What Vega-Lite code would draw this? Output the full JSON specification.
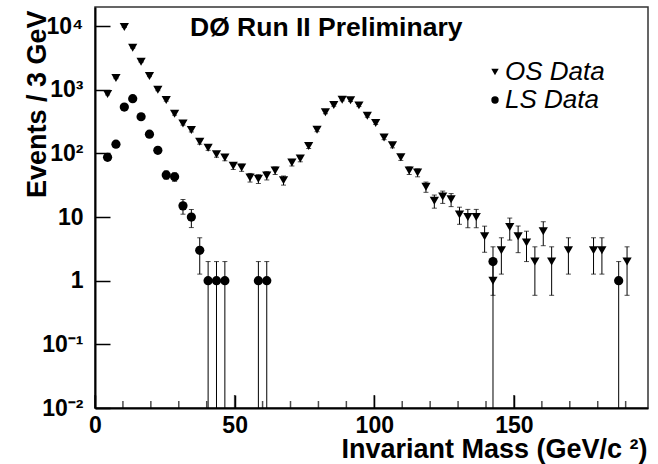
{
  "$schema": "https://vega.github.io/schema/vega-lite/v6.json",
  "width": 553,
  "height": 401,
  "autosize": {"type": "none"},
  "padding": {"left": 95, "top": 7, "right": 10, "bottom": 56},
  "background": "white",
  "title": {"text": "DØ Run II Preliminary", "anchor": "start", "frame": "group", "orient": "top", "offset": 0, "dx": 95, "dy": 55, "baseline": "alphabetic", "font": "Liberation Sans", "fontSize": 26.5, "fontWeight": "bold", "color": "black"},
  "config": {
    "view": {"stroke": "#333333", "strokeWidth": 1.5},
    "font": "Liberation Sans",
    "axis": {"grid": false, "ticks": true, "domainColor": "black", "domainWidth": 2, "tickColor": "black", "tickWidth": 1.5, "tickOpacity": 1, "labelFont": "Liberation Sans", "labelFontWeight": "bold", "labelFontSize": 23, "labelColor": "black", "titleFont": "Liberation Sans", "titleFontWeight": "bold", "titleFontSize": 27, "titleColor": "black"}
  },
  "data": {"values": [
    {"m": 4.5, "n": 860, "lo": 830.7, "hi": 889.3, "s": "OS Data"},
    {"m": 7.5, "n": 1535, "lo": 1495.8, "hi": 1574.2, "s": "OS Data"},
    {"m": 10.5, "n": 9680, "lo": 9581.6, "hi": 9778.4, "s": "OS Data"},
    {"m": 13.5, "n": 4560, "lo": 4492.5, "hi": 4627.5, "s": "OS Data"},
    {"m": 16.5, "n": 2770, "lo": 2717.4, "hi": 2822.6, "s": "OS Data"},
    {"m": 19.5, "n": 1650, "lo": 1609.4, "hi": 1690.6, "s": "OS Data"},
    {"m": 22.5, "n": 1000, "lo": 968.4, "hi": 1031.6, "s": "OS Data"},
    {"m": 25.5, "n": 690, "lo": 663.7, "hi": 716.3, "s": "OS Data"},
    {"m": 28.5, "n": 420, "lo": 399.5, "hi": 440.5, "s": "OS Data"},
    {"m": 31.5, "n": 296, "lo": 278.8, "hi": 313.2, "s": "OS Data"},
    {"m": 34.5, "n": 233, "lo": 217.7, "hi": 248.3, "s": "OS Data"},
    {"m": 37.5, "n": 152, "lo": 139.7, "hi": 164.3, "s": "OS Data"},
    {"m": 40.5, "n": 123, "lo": 111.9, "hi": 134.1, "s": "OS Data"},
    {"m": 43.5, "n": 97, "lo": 87.2, "hi": 106.8, "s": "OS Data"},
    {"m": 46.5, "n": 86, "lo": 76.7, "hi": 95.3, "s": "OS Data"},
    {"m": 49.5, "n": 64, "lo": 56, "hi": 72, "s": "OS Data"},
    {"m": 52.5, "n": 60, "lo": 52.3, "hi": 67.7, "s": "OS Data"},
    {"m": 55.5, "n": 42, "lo": 35.5, "hi": 48.5, "s": "OS Data"},
    {"m": 58.5, "n": 40, "lo": 33.7, "hi": 46.3, "s": "OS Data"},
    {"m": 61.5, "n": 45, "lo": 38.3, "hi": 51.7, "s": "OS Data"},
    {"m": 64.5, "n": 54, "lo": 46.7, "hi": 61.3, "s": "OS Data"},
    {"m": 67.5, "n": 38, "lo": 31.8, "hi": 44.2, "s": "OS Data"},
    {"m": 70.5, "n": 72, "lo": 63.5, "hi": 80.5, "s": "OS Data"},
    {"m": 73.5, "n": 83, "lo": 73.9, "hi": 92.1, "s": "OS Data"},
    {"m": 76.5, "n": 131, "lo": 119.6, "hi": 142.4, "s": "OS Data"},
    {"m": 79.5, "n": 235, "lo": 219.7, "hi": 250.3, "s": "OS Data"},
    {"m": 82.5, "n": 442, "lo": 421, "hi": 463, "s": "OS Data"},
    {"m": 85.5, "n": 576, "lo": 552, "hi": 600, "s": "OS Data"},
    {"m": 88.5, "n": 698, "lo": 671.6, "hi": 724.4, "s": "OS Data"},
    {"m": 91.5, "n": 683, "lo": 656.9, "hi": 709.1, "s": "OS Data"},
    {"m": 94.5, "n": 569, "lo": 545.1, "hi": 592.9, "s": "OS Data"},
    {"m": 97.5, "n": 391, "lo": 371.2, "hi": 410.8, "s": "OS Data"},
    {"m": 100.5, "n": 302, "lo": 284.6, "hi": 319.4, "s": "OS Data"},
    {"m": 103.5, "n": 178, "lo": 164.7, "hi": 191.3, "s": "OS Data"},
    {"m": 106.5, "n": 134, "lo": 122.4, "hi": 145.6, "s": "OS Data"},
    {"m": 109.5, "n": 87, "lo": 77.7, "hi": 96.3, "s": "OS Data"},
    {"m": 112.5, "n": 54, "lo": 46.7, "hi": 61.3, "s": "OS Data"},
    {"m": 115.5, "n": 50, "lo": 42.9, "hi": 57.1, "s": "OS Data"},
    {"m": 118.5, "n": 30, "lo": 24.5, "hi": 35.5, "s": "OS Data"},
    {"m": 121.5, "n": 18, "lo": 13.8, "hi": 22.2, "s": "OS Data"},
    {"m": 124.5, "n": 21, "lo": 16.4, "hi": 25.6, "s": "OS Data"},
    {"m": 127.5, "n": 19, "lo": 14.6, "hi": 23.4, "s": "OS Data"},
    {"m": 130.5, "n": 11, "lo": 7.7, "hi": 14.3, "s": "OS Data"},
    {"m": 133.5, "n": 10, "lo": 6.8, "hi": 13.2, "s": "OS Data"},
    {"m": 136.5, "n": 10, "lo": 6.8, "hi": 13.2, "s": "OS Data"},
    {"m": 139.5, "n": 5, "lo": 2.8, "hi": 7.2, "s": "OS Data"},
    {"m": 142.5, "n": 1, "lo": 0, "hi": 2, "s": "OS Data"},
    {"m": 145.5, "n": 3, "lo": 1.27, "hi": 4.73, "s": "OS Data"},
    {"m": 148.5, "n": 7, "lo": 4.35, "hi": 9.65, "s": "OS Data"},
    {"m": 151.5, "n": 5, "lo": 2.76, "hi": 7.24, "s": "OS Data"},
    {"m": 154.5, "n": 4, "lo": 2, "hi": 6, "s": "OS Data"},
    {"m": 157.5, "n": 2, "lo": 0.59, "hi": 3.41, "s": "OS Data"},
    {"m": 160.5, "n": 6, "lo": 3.55, "hi": 8.45, "s": "OS Data"},
    {"m": 163.5, "n": 2, "lo": 0.59, "hi": 3.41, "s": "OS Data"},
    {"m": 169.5, "n": 3, "lo": 1.27, "hi": 4.73, "s": "OS Data"},
    {"m": 178.5, "n": 3, "lo": 1.27, "hi": 4.73, "s": "OS Data"},
    {"m": 181.5, "n": 3, "lo": 1.27, "hi": 4.73, "s": "OS Data"},
    {"m": 190.5, "n": 2, "lo": 0.59, "hi": 3.41, "s": "OS Data"},
    {"m": 4.5, "n": 87, "lo": 77.7, "hi": 96.3, "s": "LS Data"},
    {"m": 7.5, "n": 140, "lo": 128.2, "hi": 151.8, "s": "LS Data"},
    {"m": 10.5, "n": 535, "lo": 511.9, "hi": 558.1, "s": "LS Data"},
    {"m": 13.5, "n": 724, "lo": 697.1, "hi": 750.9, "s": "LS Data"},
    {"m": 16.5, "n": 377, "lo": 357.6, "hi": 396.4, "s": "LS Data"},
    {"m": 19.5, "n": 201, "lo": 186.8, "hi": 215.2, "s": "LS Data"},
    {"m": 22.5, "n": 112, "lo": 101.4, "hi": 122.6, "s": "LS Data"},
    {"m": 25.5, "n": 46, "lo": 39.2, "hi": 52.8, "s": "LS Data"},
    {"m": 28.5, "n": 43, "lo": 36.4, "hi": 49.6, "s": "LS Data"},
    {"m": 31.5, "n": 15, "lo": 11.1, "hi": 18.9, "s": "LS Data"},
    {"m": 34.5, "n": 10, "lo": 6.84, "hi": 13.16, "s": "LS Data"},
    {"m": 37.5, "n": 3, "lo": 1.27, "hi": 4.73, "s": "LS Data"},
    {"m": 40.5, "n": 1, "lo": 0, "hi": 2, "s": "LS Data"},
    {"m": 43.5, "n": 1, "lo": 0, "hi": 2, "s": "LS Data"},
    {"m": 46.5, "n": 1, "lo": 0, "hi": 2, "s": "LS Data"},
    {"m": 58.5, "n": 1, "lo": 0, "hi": 2, "s": "LS Data"},
    {"m": 61.5, "n": 1, "lo": 0, "hi": 2, "s": "LS Data"},
    {"m": 142.5, "n": 2, "lo": 0.59, "hi": 3.41, "s": "LS Data"},
    {"m": 187.5, "n": 1, "lo": 0, "hi": 2, "s": "LS Data"}
  ]},
  "encoding": {
    "x": {"field": "m", "type": "quantitative",
      "scale": {"domain": [0, 198], "nice": false, "zero": false},
      "axis": {"values": [0, 50, 100, 150],
        "title": "Invariant Mass (GeV/c ²)",
        "tickSize": -13,
        "labelPadding": 19, "labelBaseline": "top", "labelFlush": false, "labelOverlap": false,
        "titleX": 552, "titleY": 49, "titleAlign": "right", "titleBaseline": "alphabetic"}}
  },
  "layer": [
    {"mark": {"type": "rule", "color": "black", "strokeWidth": 1},
     "encoding": {
       "y": {"field": "hi", "type": "quantitative",
         "scale": {"type": "log", "domain": [0.01, 20000], "nice": false, "clamp": true},
         "axis": {"values": [0.01, 0.1, 1, 10, 100, 1000, 10000],
           "title": "Events / 3 GeV",
           "labelExpr": "datum.value == 10000 ? '10⁴' : datum.value == 1000 ? '10³' : datum.value == 100 ? '10²' : datum.value == 10 ? '10\u00a0' : datum.value == 1 ? '1\u00a0' : datum.value == 0.1 ? '10⁻¹' : datum.value == 0.01 ? '10⁻²' : ''",
           "tickSize": -15,
           "labelPadding": 27,
           "labelBaseline": "middle", "labelAlign": "right", "labelOverlap": false, "labelFlush": false,
           "titleAngle": 270, "titleX": -50, "titleY": 3, "titleAlign": "right", "titleBaseline": "alphabetic"}},
       "y2": {"field": "lo"}}},
    {"data": {"values": [{"v": 0.01}, {"v": 0.1}, {"v": 1}, {"v": 10}, {"v": 100}, {"v": 1000}, {"v": 10000}]},
     "mark": {"type": "tick", "orient": "horizontal", "color": "black", "size": 15, "thickness": 1.5, "xOffset": 7.5},
     "encoding": {"x": {"datum": 0, "type": "quantitative"}, "y": {"field": "v", "type": "quantitative"}}},
    {"data": {"values": [{"v": 0.02}, {"v": 0.03}, {"v": 0.04}, {"v": 0.05}, {"v": 0.06}, {"v": 0.07}, {"v": 0.08}, {"v": 0.09},
      {"v": 0.2}, {"v": 0.3}, {"v": 0.4}, {"v": 0.5}, {"v": 0.6}, {"v": 0.7}, {"v": 0.8}, {"v": 0.9},
      {"v": 2}, {"v": 3}, {"v": 4}, {"v": 5}, {"v": 6}, {"v": 7}, {"v": 8}, {"v": 9},
      {"v": 20}, {"v": 30}, {"v": 40}, {"v": 50}, {"v": 60}, {"v": 70}, {"v": 80}, {"v": 90},
      {"v": 200}, {"v": 300}, {"v": 400}, {"v": 500}, {"v": 600}, {"v": 700}, {"v": 800}, {"v": 900},
      {"v": 2000}, {"v": 3000}, {"v": 4000}, {"v": 5000}, {"v": 6000}, {"v": 7000}, {"v": 8000}, {"v": 9000}]},
     "mark": {"type": "tick", "orient": "horizontal", "color": "black", "size": 8, "thickness": 1.5, "xOffset": 4},
     "encoding": {"x": {"datum": 0, "type": "quantitative"}, "y": {"field": "v", "type": "quantitative"}}},
    {"data": {"values": [{"v": 0}, {"v": 50}, {"v": 100}, {"v": 150}]},
     "mark": {"type": "tick", "orient": "vertical", "color": "black", "size": 13, "thickness": 1.5, "yOffset": -6.5},
     "encoding": {"x": {"field": "v", "type": "quantitative"}, "y": {"datum": 0.01, "type": "quantitative"}}},
    {"data": {"values": [{"v": 10}, {"v": 20}, {"v": 30}, {"v": 40}, {"v": 60}, {"v": 70}, {"v": 80}, {"v": 90}, {"v": 110}, {"v": 120}, {"v": 130}, {"v": 140}, {"v": 160}, {"v": 170}, {"v": 180}, {"v": 190}]},
     "mark": {"type": "tick", "orient": "vertical", "color": "black", "size": 7, "thickness": 1.5, "yOffset": -3.5},
     "encoding": {"x": {"field": "v", "type": "quantitative"}, "y": {"datum": 0.01, "type": "quantitative"}}},
    {"mark": {"type": "tick", "orient": "horizontal", "color": "black", "size": 5, "thickness": 1},
     "encoding": {"y": {"field": "hi", "type": "quantitative"}}},
    {"transform": [{"filter": "datum.lo > 0"}],
     "mark": {"type": "tick", "orient": "horizontal", "color": "black", "size": 5, "thickness": 1},
     "encoding": {"y": {"field": "lo", "type": "quantitative"}}},
    {"mark": {"type": "point", "filled": true, "color": "black", "size": 85, "opacity": 1},
     "encoding": {
       "y": {"field": "n", "type": "quantitative"},
       "shape": {"field": "s", "type": "nominal",
         "scale": {"domain": ["OS Data", "LS Data"], "range": ["triangle-down", "circle"]},
         "legend": {"title": null, "orient": "none", "legendX": 387, "legendY": 52,
           "labelFont": "Liberation Sans", "labelFontStyle": "italic", "labelFontWeight": "normal", "labelFontSize": 26, "labelColor": "black",
           "symbolSize": 55, "symbolFillColor": "black", "symbolStrokeWidth": 0, "labelOffset": -3, "rowPadding": 2}}
     }}
  ]
}
